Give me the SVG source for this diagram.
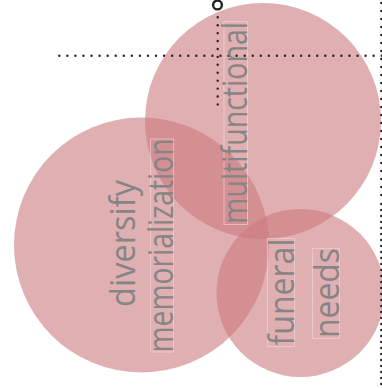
<svg xmlns="http://www.w3.org/2000/svg" width="382" height="388" viewBox="0 0 382 388">
<style>
.c{fill:rgb(204,122,127);fill-opacity:0.6}
.t{font-family:"Open Sans","Noto Sans",sans-serif;font-size:34px;fill:#858585}
.b{fill:none;stroke:#f3dcdd;stroke-width:0.7;stroke-opacity:0.85}
.d{stroke:#222;stroke-width:2.4;stroke-linecap:round;fill:none}
</style>
<rect width="382" height="388" fill="#fff"/>
<g id="circles">
<circle id="c-top" class="c" cx="263" cy="121" r="118"/>
<circle id="c-left" class="c" cx="141.5" cy="245" r="127.5"/>
<circle id="c-right" class="c" cx="300.5" cy="293" r="84"/>
</g>
<g id="connectors">
<line class="d" x1="59.3" y1="55.7" x2="381.7" y2="55.7" stroke-dasharray="0 8.06"/>
<line class="d" x1="381.3" y1="3" x2="381.3" y2="200" stroke-dasharray="0 8"/>
<line class="d" x1="381.3" y1="204" x2="381.3" y2="388" stroke-dasharray="0 6"/>
<line class="d" x1="217.7" y1="17.3" x2="217.7" y2="112.3" stroke-dasharray="0 7.92"/>
<circle cx="217.5" cy="5" r="4.4" fill="#fff" stroke="#222" stroke-width="2.4"/>
</g>
<g id="n-diversify">
<text class="t" transform="translate(135,307) rotate(-90)" textLength="127" lengthAdjust="spacingAndGlyphs">diversify</text>
</g>
<g id="n-memorialization">
<rect class="b" x="150.7" y="139" width="22.6" height="213"/>
<text class="t" transform="translate(173.3,352.5) rotate(-90)" textLength="214" lengthAdjust="spacingAndGlyphs">memorialization</text>
</g>
<g id="n-multifunctional">
<rect class="b" x="224" y="21.7" width="23.5" height="202.6"/>
<text class="t" transform="translate(247,224) rotate(-90)" textLength="202" lengthAdjust="spacingAndGlyphs">multifunctional</text>
</g>
<g id="n-funeral">
<rect class="b" x="267.3" y="238.3" width="27.2" height="108.4"/>
<text class="t" transform="translate(293.5,345.5) rotate(-90)" textLength="107" lengthAdjust="spacingAndGlyphs">funeral</text>
</g>
<g id="n-needs">
<rect class="b" x="312.7" y="248.3" width="26.6" height="90"/>
<text class="t" transform="translate(338.5,338) rotate(-90)" textLength="90" lengthAdjust="spacingAndGlyphs">needs</text>
</g>
</svg>
